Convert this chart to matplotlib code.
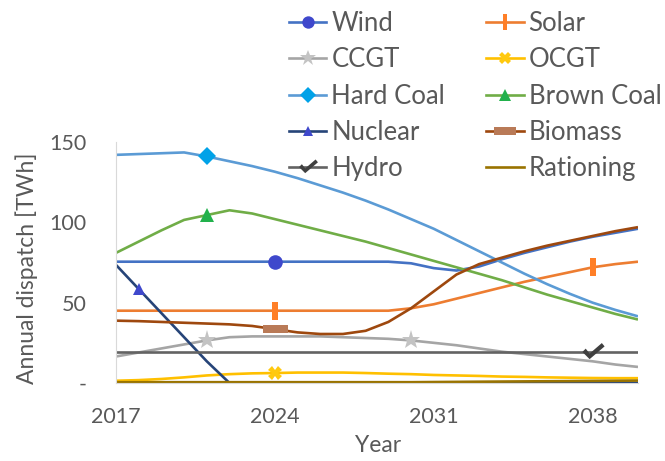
import numpy as np
import matplotlib
matplotlib.use("Agg")
import matplotlib.pyplot as plt
from matplotlib.lines import Line2D
from matplotlib.path import Path

plt.rcParams['font.family'] = ['Lato', 'DejaVu Sans']

years = list(range(2017, 2041))

wind = [75.5, 75.5, 75.5, 75.5, 75.5, 75.5, 75.5, 75.5, 75.5, 75.5, 75.5, 75.5, 75.5,
        74.5, 71.5, 70.0, 72.5, 77.0, 81.0, 84.5, 88.0, 91.0, 93.5, 96.0]
solar = [45, 45, 45, 45, 45, 45, 45, 45, 45, 45, 45, 45, 45,
         46.5, 49, 52.5, 56, 59.5, 63, 66, 69, 72, 74, 75.5]
ccgt = [16.5, 19, 21.5, 24, 26.5, 28.5, 29, 29, 29, 29, 28.5, 28, 27.5,
        26.5, 25, 23.5, 21.5, 19.5, 18, 16.5, 15, 13.5, 11.5, 10]
ocgt = [1.4, 1.8, 2.5, 3.5, 4.7, 5.5, 6.0, 6.2, 6.5, 6.5, 6.5, 6.2, 5.8,
        5.5, 5.0, 4.7, 4.4, 4.0, 3.8, 3.5, 3.3, 3.1, 3.0, 3.0]
hard_coal = [142, 142.5, 143, 143.5, 141, 138, 135, 131.5, 127.5, 123, 118.5, 113.5, 108,
             102, 96, 89, 82, 75, 68, 61.5, 55.5, 50, 45.5, 41.5]
brown_coal = [81, 88, 95, 101.5, 104.5, 107.5, 105.5, 102, 98.5, 95, 91.5, 88, 84,
              80, 76, 72, 68, 64, 59.5, 55, 51, 47, 43, 39.5]
nuclear = [73.5, 58.5, 43.5, 28.5, 13.5, 0, 0, 0, 0, 0, 0, 0, 0,
           0, 0, 0, 0, 0, 0, 0, 0, 0, 0, 0]
biomass = [38.8, 38.5, 38, 37.5, 37, 36.5, 35.5, 33.5, 31.5, 30.5, 30.5, 32.5, 38,
           46.5, 57, 67.5, 74, 78, 82, 85.5, 88.5, 91.5, 94.5, 97]
hydro = [19] * 24
rationing = [0.5, 0.5, 0.5, 0.5, 0.5, 0.5, 0.5, 0.5, 0.5, 0.5, 0.5, 0.5, 0.5,
             0.5, 0.6, 0.7, 0.8, 0.9, 1.0, 1.1, 1.2, 1.3, 1.4, 1.5]

xticks = [2017, 2024, 2031, 2038]
yticks = [0, 50, 100, 150]
ytick_labels = ['-', '50', '100', '150']

# marker shapes (Excel-like)
check = Path([(-1.0, 0.05), (-0.35, -0.6), (1.0, 0.55), (0.75, 0.85),
              (-0.35, -0.1), (-0.7, 0.35), (-1.0, 0.05)], closed=True)
rect = Path([(-1, -0.35), (1, -0.35), (1, 0.35), (-1, 0.35), (-1, -0.35)], closed=True)
bar = Path([(-0.3, -1), (0.3, -1), (0.3, 1), (-0.3, 1), (-0.3, -1)], closed=True)

# name, data, line colour, marker, marker colour, marker size, marker indices
series = [
    ('Wind', wind, '#4472C4', 'o', '#3F48CC', 10.5, [7]),
    ('Solar', solar, '#ED7D31', bar, '#FF7F27', 13, [7, 21]),
    ('CCGT', ccgt, '#A5A5A5', '*', '#C3C3C3', 14, [4, 13]),
    ('OCGT', ocgt, '#FFC000', 'X', '#FFC90E', 10, [7]),
    ('Hard Coal', hard_coal, '#5B9BD5', 'D', '#00A2E8', 9.5, [4]),
    ('Brown Coal', brown_coal, '#70AD47', '^', '#22B14C', 10.5, [4]),
    ('Nuclear', nuclear, '#264478', '^', '#3F48CC', 9, [1]),
    ('Biomass', biomass, '#9E480E', rect, '#B97A57', 18, [7]),
    ('Hydro', hydro, '#636363', check, '#404040', 16, [21]),
    ('Rationing', rationing, '#997300', None, None, 0, None),
]

fig = plt.figure(figsize=(6.65, 4.61), dpi=100)
ax = fig.add_axes([116 / 665, 1 - 383 / 461, 522 / 665, 241 / 461])

handles = []
for name, vals, lc, mk, mc, ms, idx in series:
    ax.plot(years, vals, color=lc, lw=1.9, solid_capstyle='butt', zorder=2)
    if mk is not None:
        ax.plot(years, vals, linestyle='none', marker=mk, markevery=idx,
                markersize=ms, color=mc, markeredgewidth=0, zorder=3)
    handles.append(Line2D([], [], color=lc, lw=1.9, marker=mk, markersize=ms * 0.85 if ms else 0,
                          markerfacecolor=mc, markeredgewidth=0))

ax.set_xlim(2017, 2040)
ax.set_ylim(0, 150)
ax.set_xticks(xticks)
ax.set_yticks(yticks)
ax.set_yticklabels(ytick_labels)
ax.tick_params(length=0, labelsize=15.5, labelcolor='#595959')
ax.tick_params(axis='y', pad=21)
ax.tick_params(axis='x', pad=17)

for s in ['top', 'right']:
    ax.spines[s].set_visible(False)
ax.spines['left'].set_color('#D9D9D9')
ax.spines['bottom'].set_color('#D9D9D9')

ax.set_ylabel('Annual dispatch [TWh]', fontsize=16.5, color='#595959', va='center')
ax.yaxis.set_label_coords(-0.172, 0.475)
ax.set_xlabel('Year', fontsize=16.5, color='#595959', va='center')
ax.xaxis.set_label_coords(0.502, -0.261)

labels = [s[0] for s in series]
order = list(range(0, 10, 2)) + list(range(1, 10, 2))
fig.legend([handles[i] for i in order], [labels[i] for i in order],
           loc='upper left', bbox_to_anchor=(289 / 665, 1 - 11 / 461), ncol=2,
           frameon=False, fontsize=18.5, labelcolor='#595959',
           handlelength=1.45, handletextpad=0.2, columnspacing=1.6,
           labelspacing=0.44, borderpad=0, borderaxespad=0)

fig.savefig('out.png', dpi=100)
